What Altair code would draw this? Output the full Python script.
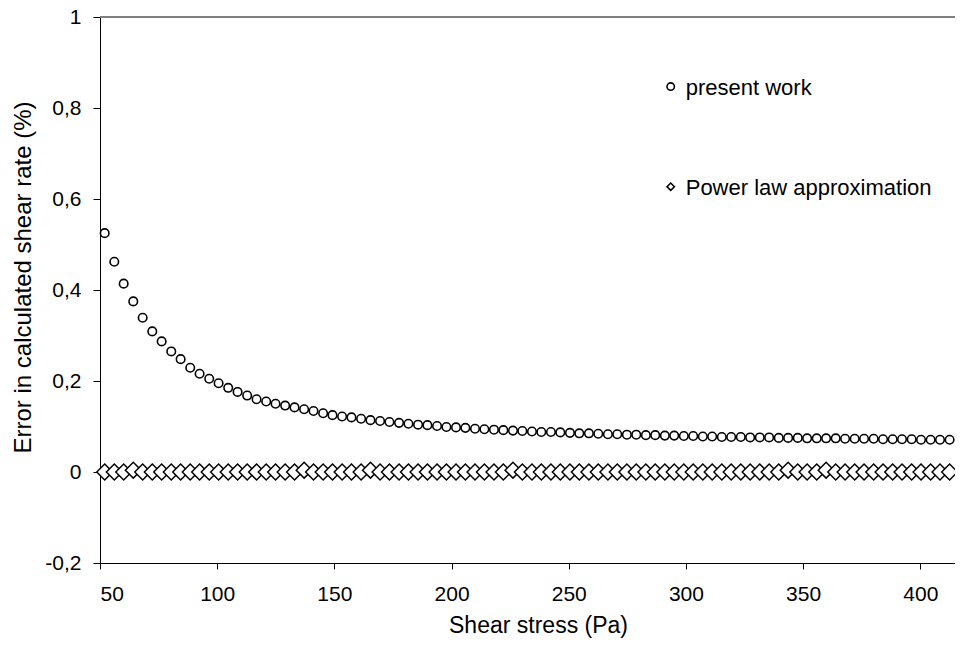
import altair as alt
import pandas as pd

# Shear stress values (Pa)
shear_stress = [
    52.0, 56.1, 60.1, 64.2, 68.2, 72.3, 76.3, 80.4, 84.4, 88.5,
    92.5, 96.6, 100.6, 104.7, 108.7, 112.8, 116.8, 120.9, 124.9, 129.0,
    133.0, 137.1, 141.1, 145.2, 149.2, 153.3, 157.3, 161.4, 165.4, 169.5,
    173.5, 177.6, 181.6, 185.7, 189.7, 193.8, 197.8, 201.9, 205.9, 210.0,
    214.0, 218.1, 222.1, 226.2, 230.2, 234.3, 238.3, 242.4, 246.4, 250.5,
    254.5, 258.6, 262.6, 266.7, 270.7, 274.8, 278.8, 282.9, 286.9, 291.0,
    295.0, 299.1, 303.1, 307.2, 311.2, 315.3, 319.3, 323.4, 327.4, 331.5,
    335.5, 339.6, 343.6, 347.7, 351.7, 355.8, 359.8, 363.9, 367.9, 372.0,
    376.0, 380.1, 384.1, 388.2, 392.2, 396.3, 400.3, 404.4, 408.4, 412.5,
]

# Error (%) - present work
present_work = [
    0.525, 0.462, 0.414, 0.375, 0.339, 0.309, 0.287, 0.265, 0.248, 0.229,
    0.216, 0.205, 0.195, 0.185, 0.176, 0.168, 0.160, 0.155, 0.150, 0.146,
    0.142, 0.138, 0.134, 0.129, 0.125, 0.122, 0.120, 0.117, 0.114, 0.112,
    0.110, 0.108, 0.106, 0.104, 0.103, 0.101, 0.099, 0.098, 0.097, 0.095,
    0.094, 0.093, 0.092, 0.091, 0.090, 0.089, 0.088, 0.088, 0.087, 0.086,
    0.085, 0.085, 0.084, 0.083, 0.083, 0.082, 0.082, 0.081, 0.081, 0.080,
    0.080, 0.079, 0.079, 0.078, 0.078, 0.077, 0.077, 0.077, 0.076, 0.076,
    0.076, 0.075, 0.075, 0.075, 0.074, 0.074, 0.074, 0.074, 0.073, 0.073,
    0.073, 0.073, 0.072, 0.072, 0.072, 0.072, 0.071, 0.071, 0.071, 0.071,
]

# Error (%) - power law approximation
power_law = [
    0.0, 0.0, 0.0, 0.004, 0.0, 0.0, 0.0, 0.0, 0.0, 0.0,
    0.0, 0.0, 0.0, 0.0, 0.0, 0.0, 0.0, 0.0, 0.0, 0.0,
    0.0, 0.004, 0.0, 0.0, 0.0, 0.0, 0.0, 0.0, 0.004, 0.0,
    0.0, 0.0, 0.0, 0.0, 0.0, 0.0, 0.0, 0.0, 0.0, 0.0,
    0.0, 0.0, 0.0, 0.004, 0.0, 0.0, 0.0, 0.0, 0.0, 0.0,
    0.0, 0.0, 0.0, 0.0, 0.0, 0.0, 0.0, 0.0, 0.0, 0.0,
    0.0, 0.0, 0.0, 0.0, 0.0, 0.0, 0.0, 0.0, 0.0, 0.0,
    0.0, 0.0, 0.004, 0.0, 0.0, 0.0, 0.004, 0.0, 0.0, 0.0,
    0.0, 0.0, 0.0, 0.0, 0.0, 0.0, 0.0, 0.0, 0.0, 0.0,
]

series_names = ["present work", "Power law approximation"]
marker_shapes = ["circle", "diamond"]
x_ticks = [50, 100, 150, 200, 250, 300, 350, 400]
y_ticks = [-0.2, 0, 0.2, 0.4, 0.6, 0.8, 1.0]

df_pw = pd.DataFrame({"x": shear_stress, "y": present_work, "series": series_names[0]})
df_pl = pd.DataFrame({"x": shear_stress, "y": power_law, "series": series_names[1]})

# legend block placement (in axis units: upper right of the plot)
LEGEND_X = 293.5
LEGEND_Y = [0.847, 0.627]
legend_df = pd.DataFrame({"series": series_names, "lx": [LEGEND_X] * 2, "ly": LEGEND_Y})

FONT = "Liberation Sans"

x_scale = alt.Scale(domain=[50, 414.8], nice=False, zero=False)
y_scale = alt.Scale(domain=[-0.2, 1.0], nice=False)
shape_scale = alt.Scale(domain=series_names, range=marker_shapes)

x_enc = alt.X(
    "x:Q",
    scale=x_scale,
    axis=alt.Axis(
        title="Shear stress (Pa)", values=x_ticks,
        grid=False, domainColor="#000000", tickColor="#000000", tickSize=6,
        labelPadding=14, titlePadding=10, titleFontSize=23, titleX=438,
    ),
)
y_enc = alt.Y(
    "y:Q",
    scale=y_scale,
    axis=alt.Axis(
        title="Error in calculated shear rate (%)",
        values=y_ticks,
        labelExpr="replace(replace(format(datum.value, '.1~f'), '.', ','), '\u2212', '-')",
        grid=False, domainColor="#000000", tickColor="#000000", tickSize=7,
        labelPadding=12, titlePadding=9, titleFontSize=24, titleY=260,
    ),
)

circles = alt.Chart(df_pw).mark_point(
    filled=False, color="black", fill="white", strokeWidth=1.6, size=72, opacity=1,
).encode(x=x_enc, y=y_enc, shape=alt.Shape("series:N", scale=shape_scale, legend=None))

diamonds = alt.Chart(df_pl).mark_point(
    filled=False, color="black", fill="white", strokeWidth=1.5, size=250, opacity=1,
).encode(x=x_enc, y=y_enc, shape=alt.Shape("series:N", scale=shape_scale, legend=None))

legend_symbols = alt.Chart(legend_df).mark_point(
    filled=False, color="black", fill="white", strokeWidth=1.6, size=55, opacity=1,
).encode(
    x=alt.X("lx:Q", scale=x_scale),
    y=alt.Y("ly:Q", scale=y_scale),
    shape=alt.Shape("series:N", scale=shape_scale, legend=None),
)

legend_labels = alt.Chart(legend_df).mark_text(
    align="left", baseline="middle", dx=15, dy=1, font=FONT, fontSize=22, color="black",
).encode(
    x=alt.X("lx:Q", scale=x_scale),
    y=alt.Y("ly:Q", scale=y_scale),
    text="series:N",
)

top_line = alt.Chart(pd.DataFrame({"top": [1.0]})).mark_rule(
    color="#808080", strokeWidth=2
).encode(y=alt.Y("top:Q", scale=y_scale))

chart = alt.layer(
    top_line, circles, diamonds, legend_symbols, legend_labels
).resolve_scale(shape="shared").properties(
    width=855, height=546,
    background="white",
    autosize=alt.AutoSizeParams(type="none"),
    padding={"left": 92, "top": 9, "right": 0, "bottom": 76},
).configure_view(stroke=None).configure_axis(
    labelFont=FONT, titleFont=FONT, labelFontSize=21, titleFontSize=24,
    labelColor="#000000", titleColor="#000000", titleFontWeight="normal",
)

chart.save("out.html", embed_options={"renderer": "svg", "actions": False})
